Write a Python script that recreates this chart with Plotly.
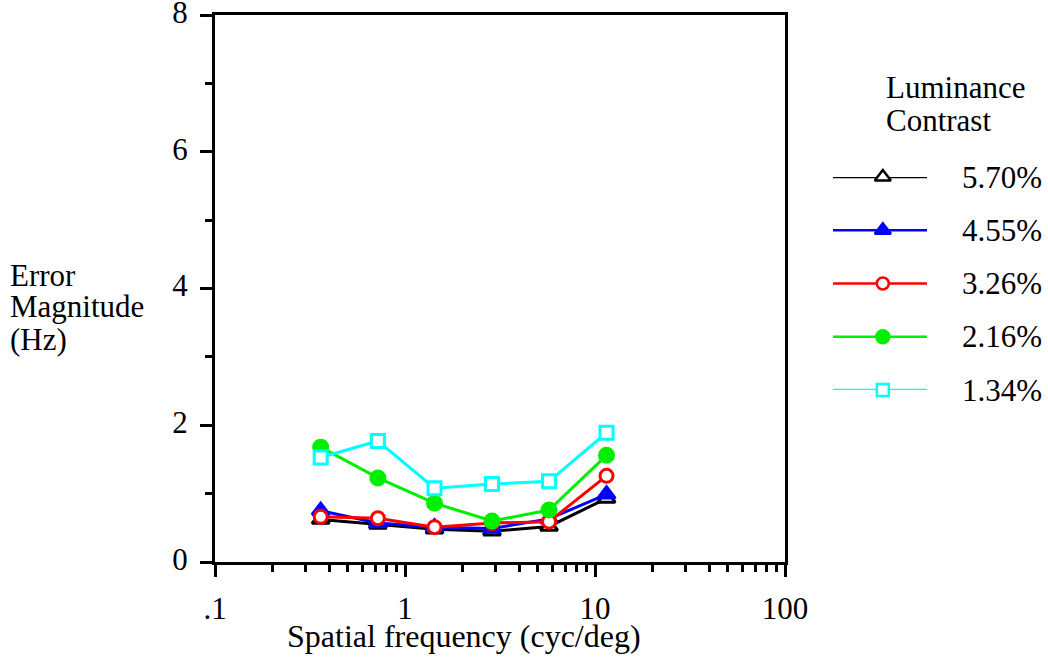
import plotly.graph_objects as go

# ---------------- data ----------------
freq = [0.36, 0.72, 1.43, 2.87, 5.73, 11.5]
series_names = ["5.70%", "4.55%", "3.26%", "2.16%", "1.34%"]
err_570 = [0.62, 0.55, 0.48, 0.45, 0.52, 0.93]
err_455 = [0.75, 0.57, 0.51, 0.49, 0.63, 0.99]
err_326 = [0.66, 0.64, 0.51, 0.57, 0.59, 1.26]
err_216 = [1.68, 1.23, 0.86, 0.60, 0.76, 1.56]
err_134 = [1.53, 1.77, 1.08, 1.14, 1.18, 1.89]
x_tickvals = [0.1, 1, 10, 100]
x_ticktext = [".1", "1", "10", "100"]
y_tickvals = [0, 2, 4, 6, 8]
x_title = "Spatial frequency (cyc/deg)"
y_title_lines = ["Error", "Magnitude", "(Hz)"]
legend_title_lines = ["Luminance", "Contrast"]

series_values = [err_570, err_455, err_326, err_216, err_134]
colors = ["#000000", "#0000ff", "#ff0000", "#00ee00", "#00ffff"]
msizes = [15, 15, 13, 14, 13]
mfill = ["white", "#0000ff", "white", "#00ee00", "white"]
msym = ["triangle-up", "triangle-up", "circle", "circle", "square"]

W, H = 1048, 659
FONT = "Liberation Serif, Times New Roman, serif"
FS = 31

fig = go.Figure()

for name, vals, c, s, ms, fc in zip(series_names, series_values, colors, msym, msizes, mfill):
    fig.add_trace(go.Scatter(
        x=freq, y=vals, mode="lines+markers", name=name,
        line=dict(color=c, width=3),
        marker=dict(symbol=s, size=ms, color=fc, line=dict(color=c, width=3)),
        xaxis="x", yaxis="y", showlegend=False, cliponaxis=False,
    ))

# manual legend on its own small axes
for i, (name, c, s, ms, fc) in enumerate(zip(series_names, colors, msym, msizes, mfill)):
    fig.add_trace(go.Scatter(x=[0, 1], y=[i, i], mode="lines",
                             line=dict(color=c, width=2.5),
                             xaxis="x2", yaxis="y2", showlegend=False, hoverinfo="skip"))
    fig.add_trace(go.Scatter(x=[0.53], y=[i], mode="markers",
                             marker=dict(symbol=s, size=ms - 1, color=fc, line=dict(color=c, width=2.5)),
                             xaxis="x2", yaxis="y2", showlegend=False, hoverinfo="skip",
                             cliponaxis=False))
    fig.add_annotation(x=960 / W, y=i, xref="paper", yref="y2", text=name,
                       showarrow=False, xanchor="left", yanchor="middle",
                       font=dict(family=FONT, size=FS, color="black"))

x0, x1 = 215 / W, 785 / W
y0, y1 = (H - 562) / H, (H - 15) / H

fig.update_layout(
    width=W, height=H,
    margin=dict(l=0, r=0, t=0, b=0, pad=0, autoexpand=False),
    paper_bgcolor="white", plot_bgcolor="white",
    font=dict(family=FONT, size=FS, color="black"),
    xaxis=dict(
        type="log", domain=[x0, x1], range=[-1, 2], automargin=False,
        tickvals=x_tickvals, ticktext=x_ticktext,
        ticks="outside", ticklen=12, tickwidth=2.5, tickcolor="black",
        showline=True, linewidth=3, linecolor="black", mirror=True,
        showgrid=False, zeroline=False, ticklabelstandoff=5,
        minor=dict(ticks="outside", ticklen=7, tickwidth=2.5, tickcolor="black",
                   tickvals=[m * 10 ** e for e in (-1, 0, 1) for m in range(2, 10)],
                   showgrid=False),
        tickfont=dict(family=FONT, size=FS),
    ),
    yaxis=dict(
        domain=[y0, y1], range=[0, 8.0001], automargin=False,
        tickvals=y_tickvals, ticklabeloverflow="allow",
        ticks="outside", ticklen=12, tickwidth=2.5, tickcolor="black",
        showline=True, linewidth=3, linecolor="black", mirror=True,
        showgrid=False, zeroline=False, ticklabelstandoff=6, ticklabelshift=-3,
        minor=dict(ticks="outside", ticklen=7, tickwidth=2.5, tickcolor="black", dtick=1,
                   showgrid=False),
        tickfont=dict(family=FONT, size=FS),
    ),
    xaxis2=dict(domain=[833 / W, 927 / W], range=[0, 1], visible=False, fixedrange=True),
    yaxis2=dict(domain=[(H - 390) / H, (H - 177) / H], range=[4, 0], visible=False, fixedrange=True),
)

# x-axis title
fig.add_annotation(x=464 / W, y=1 - 636 / H, xref="paper", yref="paper",
                   text=x_title, showarrow=False, xanchor="center", yanchor="middle",
                   font=dict(family=FONT, size=32))
# legend title
for k, t in enumerate(legend_title_lines):
    fig.add_annotation(x=884 / W, y=1 - (88 + 32 * k) / H, xref="paper", yref="paper",
                       text=t, showarrow=False, xanchor="left", yanchor="middle",
                       font=dict(family=FONT, size=FS))
# y-axis title
for k, t in enumerate(y_title_lines):
    fig.add_annotation(x=8 / W, y=1 - (275 + 32 * k) / H, xref="paper", yref="paper",
                       text=t, showarrow=False, xanchor="left", yanchor="middle",
                       font=dict(family=FONT, size=FS))

fig.write_html("out.html", config={"displayModeBar": False},
               post_script="document.body.style.margin='0';")
